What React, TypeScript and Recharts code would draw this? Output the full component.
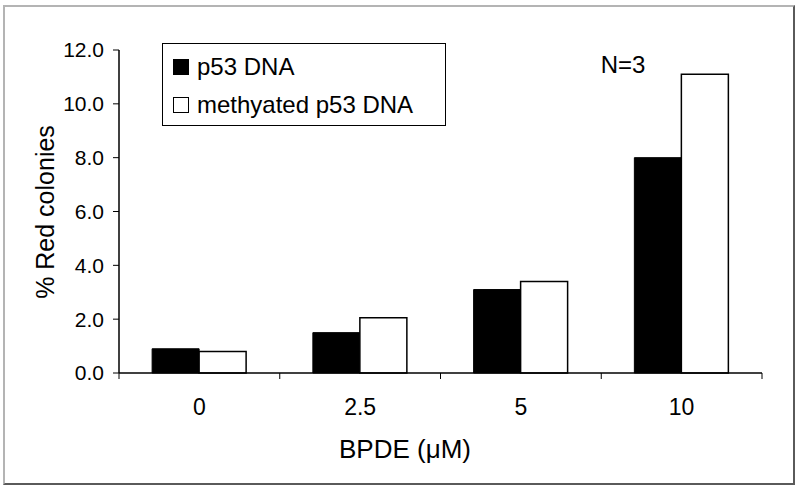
import { BarChart, Bar, XAxis, YAxis, Legend, Label } from 'recharts'

const doses = ['0', '2.5', '5', '10']
const p53Dna = [0.9, 1.5, 3.1, 8.0]
const methylatedDna = [0.8, 2.05, 3.4, 11.1]
const yTicks = [0, 2, 4, 6, 8, 10, 12]

const seriesNames = ['p53 DNA', 'methyated p53 DNA']

const data = doses.map((dose, i) => ({
  dose,
  p53: p53Dna[i],
  methylated: methylatedDna[i],
}))

const FONT = '"Liberation Sans", Arial, sans-serif'
const AXIS_X = 119
const PLOT_RIGHT = 762
const PLOT_TOP = 50
const PLOT_BOTTOM = 373
const HALF_BAND = (PLOT_RIGHT - AXIS_X) / doses.length / 2

function DoseTick(props: any) {
  const { x, payload, index } = props
  return (
    <g>
      <line x1={x - HALF_BAND} y1={PLOT_BOTTOM} x2={x - HALF_BAND} y2={PLOT_BOTTOM + 6} stroke="#000" />
      {index === doses.length - 1 && (
        <line x1={x + HALF_BAND} y1={PLOT_BOTTOM} x2={x + HALF_BAND} y2={PLOT_BOTTOM + 6} stroke="#000" />
      )}
      <text
        x={x}
        y={407}
        textAnchor="middle"
        dominantBaseline="central"
        fontSize={23}
        fontFamily={FONT}
        fill="#000"
      >
        {payload.value}
      </text>
    </g>
  )
}

function LegendBox() {
  const fills = ['#000', '#fff']
  return (
    <div
      style={{
        width: 284,
        height: 83,
        boxSizing: 'border-box',
        border: '1.5px solid #000',
        background: '#fff',
        paddingTop: 4,
        paddingLeft: 10,
        fontFamily: FONT,
        fontSize: 24,
        color: '#000',
        textAlign: 'left',
      }}
    >
      {seriesNames.map((name, i) => (
        <div key={name} style={{ display: 'flex', alignItems: 'center', height: 38 }}>
          <span
            style={{
              display: 'inline-block',
              width: 16,
              height: 16,
              boxSizing: 'border-box',
              background: fills[i],
              border: '1px solid #000',
              marginRight: 8,
            }}
          />
          <span>{name}</span>
        </div>
      ))}
    </div>
  )
}

export default function App() {
  return (
    <div style={{ position: 'absolute', left: 0, top: 0, width: 800, height: 490, background: '#fff' }}>
      <div
        style={{
          position: 'absolute',
          left: 3,
          top: 5,
          width: 792,
          height: 480,
          boxSizing: 'border-box',
          borderTop: '2px solid #b4b4b4',
          borderLeft: '2px solid #b4b4b4',
          borderRight: '2px solid #5a5a5a',
          borderBottom: '2px solid #5a5a5a',
        }}
      />
      <BarChart
        width={800}
        height={490}
        data={data}
        margin={{ top: PLOT_TOP, right: 800 - PLOT_RIGHT, bottom: 57, left: 0 }}
        barCategoryGap="20.6%"
        barGap={0}
        style={{ position: 'absolute', left: 0, top: 0 }}
      >
        <XAxis
          dataKey="dose"
          height={60}
          interval={0}
          axisLine={{ stroke: '#000', strokeWidth: 1.5 }}
          tickLine={false}
          tick={<DoseTick />}
        >
          <Label
            content={() => (
              <text x={405} y={449} textAnchor="middle" dominantBaseline="central" fontSize={26} fontFamily={FONT} fill="#000">
                BPDE (μM)
              </text>
            )}
          />
        </XAxis>
        <YAxis
          width={AXIS_X}
          domain={[0, 12]}
          ticks={yTicks}
          interval={0}
          tickFormatter={(v: number) => v.toFixed(1)}
          axisLine={{ stroke: '#000', strokeWidth: 1.5 }}
          tickLine={{ stroke: '#000' }}
          tickSize={6}
          tickMargin={9}
          tick={{ fill: '#000', fontSize: 21, fontFamily: FONT }}
        >
          <Label
            content={() => (
              <g>
                <text
                  x={45}
                  y={212}
                  transform="rotate(-90 45 212)"
                  textAnchor="middle"
                  dominantBaseline="central"
                  fontSize={25}
                  fontFamily={FONT}
                  fill="#000"
                >
                  % Red colonies
                </text>
                <text x={623} y={64} textAnchor="middle" dominantBaseline="central" fontSize={24} fontFamily={FONT} fill="#000">
                  N=3
                </text>
              </g>
            )}
          />
        </YAxis>
        <Legend
          layout="vertical"
          align="center"
          verticalAlign="middle"
          content={<LegendBox />}
          wrapperStyle={{ position: 'absolute', left: 162, top: 43, width: 284, height: 83 }}
        />
        <Bar dataKey="p53" name={seriesNames[0]} fill="#000" stroke="#000" strokeWidth={1} isAnimationActive={false} />
        <Bar
          dataKey="methylated"
          name={seriesNames[1]}
          fill="#fff"
          stroke="#000"
          strokeWidth={1.5}
          isAnimationActive={false}
        />
      </BarChart>
    </div>
  )
}
